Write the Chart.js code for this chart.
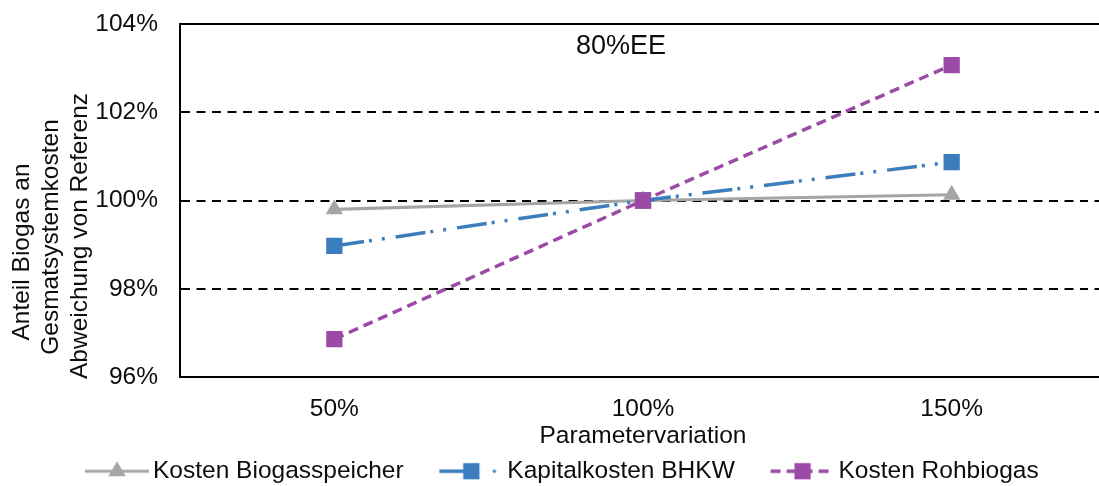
<!DOCTYPE html>
<html><head><meta charset="utf-8">
<script src="https://cdn.jsdelivr.net/npm/chart.js@4.4.0/dist/chart.umd.min.js"></script>
<style>html,body{margin:0;padding:0;overflow:hidden;background:#fff}#wrap{width:1106px;height:486px}</style>
</head><body><div id="wrap"><canvas id="c" width="1106" height="486"></canvas></div>
<script>
// ---- data ----
const categories = ['50%', '100%', '150%'];
const seriesNames = ['Kosten Biogasspeicher', 'Kapitalkosten BHKW', 'Kosten Rohbiogas'];
const biogasspeicher = [99.8, 100, 100.13];
const kapitalkostenBHKW = [98.97, 100, 100.87];
const rohbiogas = [96.86, 100, 103.07];
const yTickValues = [96, 98, 100, 102, 104];
const yTitleLines = ['Anteil Biogas an', 'Gesmatsystemkosten', 'Abweichung von Referenz'];
const xTitle = 'Parametervariation';
const scenarioLabel = '80%EE';

// ---- styles ----
const FONT = '"Liberation Sans", Arial, Helvetica, sans-serif';
const FS = 24.5;
const TEXT = '#0d0d0d';
const GRID_DASH = [9, 6.5];
const styles = [
  {color: '#A5A5A5', width: 3.2, dash: [], point: 'triangle', radius: 10, order: 2},
  {color: '#3C7DBD', width: 3.5, dash: [30, 5, 3, 10, 3, 11], point: 'rect', radius: 11.5, order: 1},
  {color: '#9B4BA5', width: 3.5, dash: [10, 6], point: 'rect', radius: 11.5, order: 0}
];
const seriesData = [biogasspeicher, kapitalkostenBHKW, rohbiogas];

Chart.defaults.font.family = FONT;
Chart.defaults.color = TEXT;

function legendSymbol(i) {
  const s = styles[i];
  const W = 98, H = 26, x0 = 34, x1 = 98, cy = 13;
  const c = document.createElement('canvas');
  c.width = W; c.height = H;
  const g = c.getContext('2d');
  g.strokeStyle = s.color; g.fillStyle = s.color; g.lineWidth = s.width;
  const mid = (x0 + x1) / 2;
  if (i === 1) {
    g.beginPath(); g.moveTo(x0, cy); g.lineTo(mid, cy); g.stroke();
    g.beginPath(); g.arc(x1 - 9, cy, 1.7, 0, Math.PI * 2); g.fill();
  } else {
    g.setLineDash(s.dash);
    g.beginPath(); g.moveTo(x0, cy); g.lineTo(x1, cy); g.stroke();
    g.setLineDash([]);
  }
  if (s.point === 'triangle') {
    const r = s.radius;
    g.beginPath();
    g.moveTo(mid, cy - r);
    g.lineTo(mid + r * Math.sin(2 * Math.PI / 3), cy - r * Math.cos(2 * Math.PI / 3));
    g.lineTo(mid + r * Math.sin(4 * Math.PI / 3), cy - r * Math.cos(4 * Math.PI / 3));
    g.closePath(); g.fill();
  } else {
    const half = s.radius / Math.SQRT2;
    g.fillRect(mid - half, cy - half, 2 * half, 2 * half);
  }
  return c;
}

const textPlugin = {
  id: 'extraText',
  afterDraw(chart) {
    const ctx = chart.ctx;
    const a = chart.chartArea;
    const ys = chart.scales.y;
    // clean the cut-off right edge of the plot and repaint the gridlines there
    ctx.save();
    ctx.beginPath();
    ctx.rect(1088, a.top + 1.2, chart.width - 1088, a.bottom - a.top - 2.4);
    ctx.clip();
    ctx.fillStyle = '#fff';
    ctx.fillRect(1088, a.top, chart.width - 1088, a.bottom - a.top);
    ctx.strokeStyle = '#000';
    ctx.lineWidth = 2;
    yTickValues.slice(1, -1).forEach(v => {
      const y = Math.round(ys.getPixelForValue(v) - 1) + 1;
      ctx.setLineDash(GRID_DASH);
      ctx.beginPath(); ctx.moveTo(a.left, y); ctx.lineTo(a.right, y); ctx.stroke();
    });
    ctx.restore();

    ctx.save();
    ctx.fillStyle = TEXT;
    ctx.textAlign = 'center';
    ctx.textBaseline = 'middle';
    ctx.font = FS + 'px ' + FONT;
    const xs = [22, 51, 80];
    const yc = [252, 237, 236];
    yTitleLines.forEach((t, i) => {
      ctx.save();
      ctx.translate(xs[i], yc[i]);
      ctx.rotate(-Math.PI / 2);
      ctx.fillText(t, 0, 0);
      ctx.restore();
    });
    ctx.font = '27px ' + FONT;
    ctx.fillText(scenarioLabel, 621, 47);
    ctx.restore();
  }
};

new Chart(document.getElementById('c'), {
  type: 'line',
  data: {
    labels: categories,
    datasets: seriesData.map((d, i) => ({
      label: seriesNames[i],
      data: d,
      borderColor: styles[i].color,
      backgroundColor: styles[i].color,
      borderWidth: styles[i].width,
      borderDash: styles[i].dash,
      pointStyle: styles[i].point,
      pointRadius: styles[i].radius,
      pointBackgroundColor: styles[i].color,
      pointBorderColor: styles[i].color,
      pointBorderWidth: 0,
      tension: 0,
      fill: false,
      order: styles[i].order
    }))
  },
  options: {
    responsive: false,
    animation: false,
    devicePixelRatio: 1,
    events: [],
    layout: {autoPadding: false, padding: {top: 24, left: -8, right: 0, bottom: -7.5}},
    plugins: {
      tooltip: {enabled: false},
      legend: {
        position: 'bottom',
        labels: {
          font: {size: FS, family: FONT},
          color: TEXT,
          usePointStyle: true,
          pointStyleWidth: 81.5,
          boxHeight: FS,
          padding: 10,
          generateLabels: (chart) => seriesNames.map((n, i) => ({
            text: n, pointStyle: legendSymbol(i), fillStyle: styles[i].color,
            strokeStyle: styles[i].color, lineWidth: 1, hidden: false, datasetIndex: i, fontColor: TEXT
          }))
        }
      }
    },
    scales: {
      x: {
        type: 'category',
        offset: true,
        grid: {display: false, drawTicks: false},
        border: {display: true, color: '#000', width: 2},
        ticks: {font: {size: FS}, color: TEXT, padding: 18, maxRotation: 0},
        title: {display: true, text: xTitle, font: {size: FS}, color: TEXT, padding: {top: 0, bottom: -2}},
        afterFit: (s) => { s.height = 72; s.paddingLeft = 0; s.paddingRight = 0; }
      },
      y: {
        min: yTickValues[0],
        max: yTickValues[yTickValues.length - 1],
        afterBuildTicks: (s) => { s.ticks = yTickValues.map(v => ({value: v})); },
        grid: {
          drawTicks: false,
          lineWidth: 2,
          color: (ctx) => (ctx.tick && ctx.tick.value === yTickValues[0]) ? 'rgba(0,0,0,0)' : '#000'
        },
        border: {
          display: true, color: '#000', width: 2,
          dash: (ctx) => (ctx.tick && ctx.tick.value !== yTickValues[yTickValues.length - 1]) ? GRID_DASH : []
        },
        ticks: {font: {size: FS}, color: TEXT, padding: 22, callback: (v) => v + '%'},
        afterFit: (s) => { s.width = 188; s.paddingTop = 0; s.paddingBottom = 0; }
      }
    }
  },
  plugins: [textPlugin]
});
</script>
</body></html>
